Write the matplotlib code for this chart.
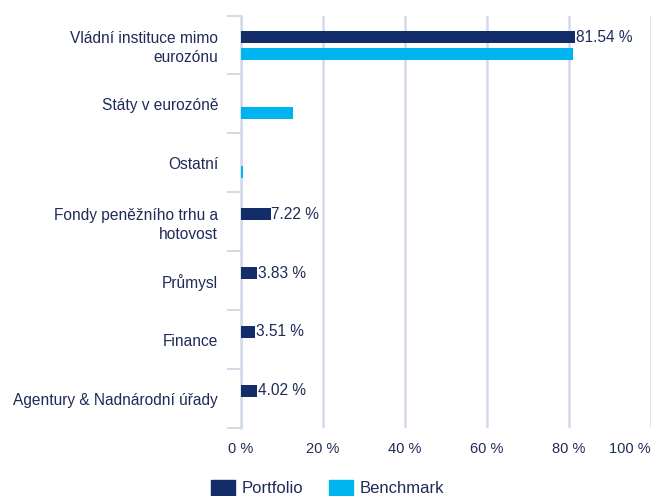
import matplotlib
matplotlib.use("Agg")
import matplotlib.pyplot as plt
from matplotlib.patches import Patch
import numpy as np

plt.rcParams['font.family'] = ['Liberation Sans', 'DejaVu Sans']

categories = ["Vládní instituce mimo\neurozónu", "Státy v eurozóně", "Ostatní",
              "Fondy peněžního trhu a\nhotovost", "Průmysl", "Finance",
              "Agentury & Nadnárodní úřady"]
portfolio = [81.54, 0, 0, 7.22, 3.83, 3.51, 4.02]
benchmark = [81.0, 12.8, 0.5, 0, 0, 0, 0]
x_ticks = [0, 20, 40, 60, 80, 100]
x_tick_labels = ["0 %", "20 %", "40 %", "60 %", "80 %", "100 %"]
series_names = ["Portfolio", "Benchmark"]

navy = "#132d6a"
cyan = "#00b5ef"
grid_c = "#d3dbe8"
text_c = "#1f2b58"

W, H = 653, 496
fig = plt.figure(figsize=(W / 100, H / 100), dpi=100)
ax = fig.add_axes([241 / W, 1 - 428 / H, 410 / W, 412.5 / H])

y = np.arange(len(categories))
h = 0.21
ax.barh(y - 0.13, portfolio, height=h, color=navy, zorder=3)
ax.barh(y + 0.155, benchmark, height=h, color=cyan, zorder=3)

for yi, v in zip(y, portfolio):
    if v > 0:
        ax.text(v + 0.2, yi - 0.13, f"{v:.2f} %", va="center", ha="left",
                fontsize=11.2, color=text_c, zorder=4)

ax.set_xlim(0, 100)
ax.set_ylim(6.5, -0.5)
ax.set_xticks(x_ticks)
ax.set_xticklabels(x_tick_labels)
for lbl in ax.get_xticklabels()[-1:]:
    lbl.set_ha("right")
ax.tick_params(axis="x", length=0, pad=10, labelsize=10.5, labelcolor=text_c)
ax.grid(axis="x", color=grid_c, linewidth=1.8, zorder=0)

ax.set_yticks(y)
ax.set_yticklabels(categories, fontsize=11.2, color=text_c, linespacing=1.3)
for lbl in ax.get_yticklabels():
    lbl.set_multialignment("right")
ax.set_yticks(np.arange(-0.5, 6.6, 1.0), minor=True)
ax.tick_params(axis="y", which="major", length=0, pad=16.5)
ax.tick_params(axis="y", which="minor", length=10, width=1.4, color=grid_c)

for s in ["top", "right", "bottom"]:
    ax.spines[s].set_visible(False)
ax.spines["left"].set_color(grid_c)
ax.spines["left"].set_linewidth(1.8)

handles = [Patch(color=navy), Patch(color=cyan)]
fig.legend(handles, series_names, loc="lower center", bbox_to_anchor=(0.5015, -0.02),
           ncol=2, frameon=False, fontsize=12, handlelength=1.45, handleheight=1.0,
           handletextpad=0.4, columnspacing=1.5, labelcolor=text_c, borderpad=0.1)

fig.savefig("out.png", dpi=100)
